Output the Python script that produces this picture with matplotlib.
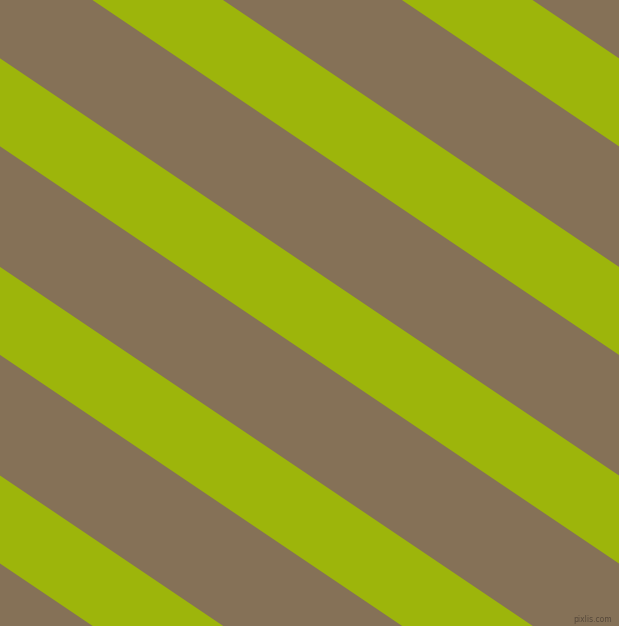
import numpy as np
import matplotlib
matplotlib.use("Agg")
import matplotlib.pyplot as plt

# canvas in pixels
width, height = 619, 626

# colours
background = "#857157"
stripe_color = "#9db50b"

# stripes: upper edge y at x=0 (image coords, y downwards), slope and vertical thickness
stripe_offsets = [-358.9, -150.3, 58.3, 266.9, 475.5]
stripe_thickness = [88, 88, 88, 88, 88]
slope = 0.674

fig = plt.figure(figsize=(width / 100, height / 100), dpi=100)
ax = fig.add_axes([0, 0, 1, 1])
ax.set_facecolor(background)
fig.patch.set_facecolor(background)

x = np.array([0, width])
for c, w in zip(stripe_offsets, stripe_thickness):
    ax.fill_between(x, slope * x + c, slope * x + c + w, color=stripe_color, linewidth=0)

ax.set_xlim(0, width)
ax.set_ylim(height, 0)
ax.axis("off")

# watermark
ax.text(612, 619, "pixlis.com", fontsize=5.5, color="#55483a", ha="right", va="center")

fig.savefig("out.png", dpi=100, facecolor=background)
